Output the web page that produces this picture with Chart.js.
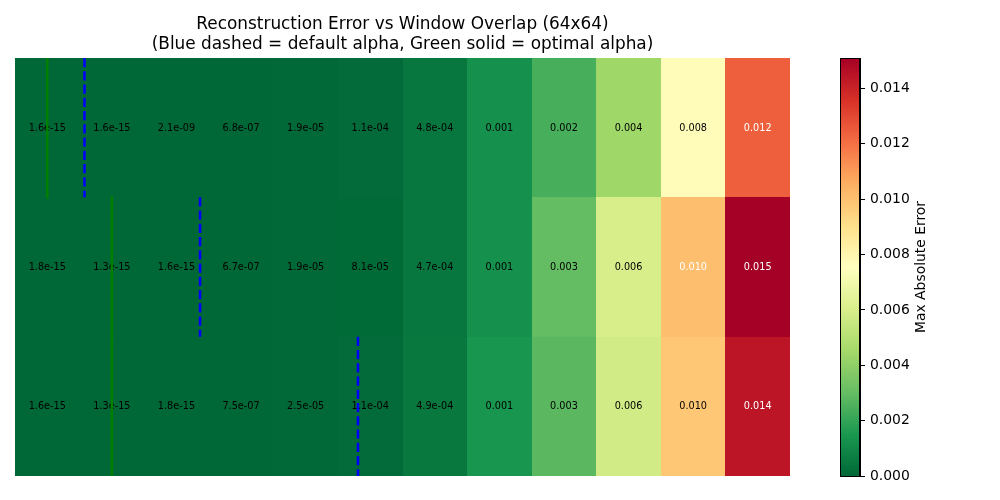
<!DOCTYPE html>
<html>
<head>
<meta charset="utf-8">
<script src="https://cdn.jsdelivr.net/npm/chart.js@4/dist/chart.umd.min.js"></script>
<style>
  body { margin: 0; background: #fff; }
  #wrap { position: relative; width: 1000px; height: 500px; }
  #heatmap { position: absolute; left: 0; top: 0; }
  #colorbar { position: absolute; left: 800px; top: 0; }
</style>
</head>
<body>
<div id="wrap">
  <canvas id="heatmap" width="800" height="500"></canvas>
  <canvas id="colorbar" width="200" height="500"></canvas>
</div>
<script>
// ==================== DATA ====================
// max absolute error, one array per row of the grid (12 window overlap steps)
const errRow1 = [1.6e-15, 1.6e-15, 2.1e-9, 6.8e-7, 1.9e-5, 1.1e-4, 4.8e-4, 0.0013, 0.0024, 0.0044, 0.0077, 0.0124];
const errRow2 = [1.8e-15, 1.3e-15, 1.6e-15, 6.7e-7, 1.9e-5, 8.1e-5, 4.7e-4, 0.0013, 0.0030, 0.0060, 0.0101, 0.0151];
const errRow3 = [1.6e-15, 1.3e-15, 1.8e-15, 7.5e-7, 2.5e-5, 1.1e-4, 4.9e-4, 0.0014, 0.0028, 0.0058, 0.0098, 0.0144];

// alpha positions per row, in column units
const defaultAlpha = [0.576, 2.365, 4.81];
const optimalAlpha = [0, 1, 1];

const colorbarTicks = [0, 0.002, 0.004, 0.006, 0.008, 0.010, 0.012, 0.014];

const grid = [errRow1, errRow2, errRow3];
const vmax = Math.max(...grid.flat());

// RdYlGn reversed (low = green, high = red)
const cmapStops = ['#006837', '#1a9850', '#66bd63', '#a6d96a', '#d9ef8b', '#ffffbf',
                   '#fee08b', '#fdae61', '#f46d43', '#d73027', '#a50026'];

function hexToRgb(h) {
    return [parseInt(h.slice(1, 3), 16), parseInt(h.slice(3, 5), 16), parseInt(h.slice(5, 7), 16)];
}

function cmap(t) {
    t = Math.max(0, Math.min(1, t));
    const pos = t * (cmapStops.length - 1);
    const i = Math.min(Math.floor(pos), cmapStops.length - 2);
    const f = pos - i;
    const a = hexToRgb(cmapStops[i]), b = hexToRgb(cmapStops[i + 1]);
    const c = a.map((v, k) => Math.round(v + (b[k] - v) * f));
    return `rgb(${c[0]}, ${c[1]}, ${c[2]})`;
}

function fmt(v) {
    if (v >= 1e-3) return v.toFixed(3);
    const s = v.toExponential(1);
    return s.replace(/e([+-])(\d)$/, 'e$10$2');
}

Chart.defaults.font.family = "'DejaVu Sans', sans-serif";
Chart.defaults.color = '#000';

// ==================== HEATMAP ====================
const cellPlugin = {
    id: 'cells',
    beforeDatasetsDraw(chart) {
        const ctx = chart.ctx;
        const xs = chart.scales.x, ys = chart.scales.y;
        ctx.save();
        grid.forEach((row, r) => {
            row.forEach((v, c) => {
                const x0 = Math.round(xs.getPixelForValue(c - 0.5));
                const x1 = Math.round(xs.getPixelForValue(c + 0.5));
                const y0 = Math.round(ys.getPixelForValue(r - 0.5));
                const y1 = Math.round(ys.getPixelForValue(r + 0.5));
                ctx.fillStyle = cmap(v / vmax);
                ctx.fillRect(x0, y0, x1 - x0, y1 - y0);
            });
        });
        ctx.font = "9.7px 'DejaVu Sans'";
        ctx.textAlign = 'center';
        ctx.textBaseline = 'middle';
        grid.forEach((row, r) => {
            row.forEach((v, c) => {
                ctx.fillStyle = v > 0.01 ? '#fff' : '#000';
                ctx.fillText(fmt(v), xs.getPixelForValue(c), ys.getPixelForValue(r) + 0.5);
            });
        });
        ctx.restore();
    }
};

const lineSets = [];
optimalAlpha.forEach((a, r) => {
    lineSets.push({
        data: [{ x: a, y: r - 0.5 }, { x: a, y: r + 0.5 }],
        borderColor: '#008000',
        borderWidth: 2.5,
        borderCapStyle: 'square',
        pointRadius: 0,
        showLine: true
    });
});
defaultAlpha.forEach((a, r) => {
    lineSets.push({
        data: [{ x: a, y: r - 0.5 }, { x: a, y: r + 0.5 }],
        borderColor: '#0000ff',
        borderWidth: 2.5,
        borderDash: [9.25, 4],
        pointRadius: 0,
        showLine: true
    });
});

new Chart(document.getElementById('heatmap'), {
    type: 'scatter',
    data: { datasets: lineSets },
    options: {
        responsive: false,
        animation: false,
        layout: { padding: { left: 15, right: 10, top: 3, bottom: 24 } },
        plugins: {
            legend: { display: false },
            tooltip: { enabled: false },
            title: {
                display: true,
                text: ['Reconstruction Error vs Window Overlap (64x64)',
                       '(Blue dashed = default alpha, Green solid = optimal alpha)'],
                font: { size: 16.9, weight: 'normal', lineHeight: 1.2 },
                padding: { top: 11, bottom: 3.4 }
            }
        },
        scales: {
            x: { type: 'linear', min: -0.5, max: 11.5, display: false },
            y: { type: 'linear', min: -0.5, max: 2.5, reverse: true, display: false }
        }
    },
    plugins: [cellPlugin]
});

// ==================== COLORBAR ====================
const gradientPlugin = {
    id: 'gradientBar',
    beforeDatasetsDraw(chart) {
        const ctx = chart.ctx;
        const area = chart.chartArea;
        const ys = chart.scales.y;
        const g = ctx.createLinearGradient(0, ys.getPixelForValue(0), 0, ys.getPixelForValue(vmax));
        cmapStops.forEach((c, i) => g.addColorStop(i / (cmapStops.length - 1), c));
        ctx.save();
        ctx.fillStyle = g;
        ctx.fillRect(area.left, area.top, area.right - area.left, area.bottom - area.top);
        ctx.strokeStyle = '#000';
        ctx.lineWidth = 1;
        ctx.strokeRect(area.left + 0.5, area.top + 0.5, area.right - area.left - 1, area.bottom - area.top);
        // colorbar label, reading bottom to top
        ctx.translate(area.right + 61.5, (area.top + area.bottom) / 2);
        ctx.rotate(-Math.PI / 2);
        ctx.font = "13.9px 'DejaVu Sans'";
        ctx.fillStyle = '#000';
        ctx.textAlign = 'center';
        ctx.textBaseline = 'middle';
        ctx.fillText('Max Absolute Error', 0, 0);
        ctx.restore();
    }
};

new Chart(document.getElementById('colorbar'), {
    type: 'scatter',
    data: { datasets: [] },
    options: {
        responsive: false,
        animation: false,
        layout: { padding: { left: 40, right: 0, top: 58, bottom: 24 } },
        plugins: { legend: { display: false }, tooltip: { enabled: false } },
        scales: {
            x: { type: 'linear', display: false },
            y: {
                type: 'linear',
                position: 'right',
                min: 0,
                max: vmax,
                afterFit(scale) { scale.width = 140; },
                afterBuildTicks(scale) { scale.ticks = colorbarTicks.map(v => ({ value: v })); },
                grid: { drawOnChartArea: false, drawTicks: true, tickLength: 5, tickColor: '#000', color: '#000' },
                border: { display: true, color: '#000' },
                ticks: {
                    padding: 5,
                    color: '#000',
                    font: { size: 13.9 },
                    callback: v => v.toFixed(3)
                }
            }
        }
    },
    plugins: [gradientPlugin]
});
</script>
</body>
</html>
